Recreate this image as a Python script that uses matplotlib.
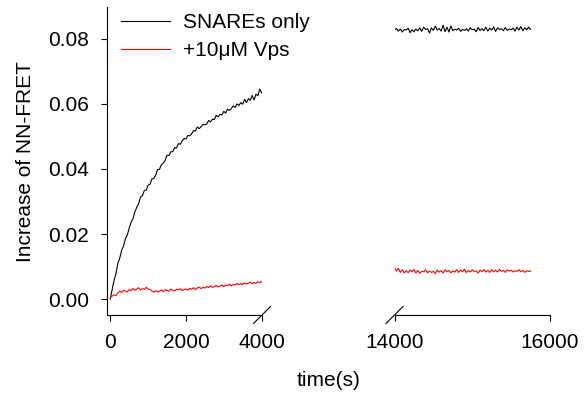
import numpy as np
import matplotlib
matplotlib.use('Agg')
import matplotlib.pyplot as plt

plt.rcParams['font.family'] = ['Liberation Sans', 'DejaVu Sans']
plt.rcParams['font.size'] = 15

# early phase, sampled every 50 s
t_early = np.arange(0, 4001, 50)
snare_early = [0.0000, 0.0030, 0.0058, 0.0078, 0.0110, 0.0126, 0.0150, 0.0163, 0.0186, 0.0197,
               0.0218, 0.0236, 0.0247, 0.0268, 0.0282, 0.0294, 0.0314, 0.0318, 0.0334, 0.0335,
               0.0350, 0.0353, 0.0369, 0.0371, 0.0381, 0.0398, 0.0399, 0.0413, 0.0417, 0.0427,
               0.0442, 0.0441, 0.0453, 0.0453, 0.0466, 0.0464, 0.0478, 0.0476, 0.0486, 0.0494,
               0.0492, 0.0503, 0.0502, 0.0508, 0.0518, 0.0517, 0.0529, 0.0524, 0.0530, 0.0537,
               0.0536, 0.0538, 0.0549, 0.0545, 0.0553, 0.0552, 0.0565, 0.0560, 0.0568, 0.0566,
               0.0577, 0.0572, 0.0584, 0.0580, 0.0586, 0.0594, 0.0589, 0.0600, 0.0595, 0.0604,
               0.0599, 0.0614, 0.0604, 0.0616, 0.0611, 0.0626, 0.0612, 0.0630, 0.0625, 0.0646,
               0.0634]
vps_early = [0.0005, 0.0009, 0.0013, 0.0011, 0.0019, 0.0024, 0.0020, 0.0027, 0.0025, 0.0022,
             0.0029, 0.0026, 0.0033, 0.0027, 0.0031, 0.0035, 0.0028, 0.0032, 0.0030, 0.0036,
             0.0031, 0.0029, 0.0025, 0.0021, 0.0026, 0.0022, 0.0024, 0.0028, 0.0023, 0.0029,
             0.0026, 0.0024, 0.0031, 0.0027, 0.0025, 0.0030, 0.0028, 0.0032, 0.0026, 0.0029,
             0.0031, 0.0027, 0.0033, 0.0030, 0.0035, 0.0029, 0.0034, 0.0037, 0.0032, 0.0036,
             0.0034, 0.0039, 0.0035, 0.0041, 0.0036, 0.0038, 0.0042, 0.0037, 0.0040, 0.0044,
             0.0038, 0.0043, 0.0041, 0.0046, 0.0040, 0.0045, 0.0043, 0.0048, 0.0044, 0.0047,
             0.0045, 0.0050, 0.0046, 0.0049, 0.0052, 0.0047, 0.0051, 0.0048, 0.0053, 0.0050,
             0.0054]

# late phase, sampled every 25 s from 14000 s
snare_late = [0.0828, 0.0832, 0.0824, 0.0830, 0.0821, 0.0829, 0.0827, 0.0833, 0.0819, 0.0828,
              0.0822, 0.0830, 0.0825, 0.0834, 0.0823, 0.0836, 0.0829, 0.0831, 0.0818, 0.0834,
              0.0826, 0.0839, 0.0827, 0.0832, 0.0824, 0.0842, 0.0822, 0.0836, 0.0821, 0.0840,
              0.0825, 0.0830, 0.0827, 0.0833, 0.0823, 0.0829, 0.0826, 0.0831, 0.0824, 0.0834,
              0.0828, 0.0830, 0.0822, 0.0835, 0.0826, 0.0831, 0.0825, 0.0836, 0.0824, 0.0833,
              0.0827, 0.0837, 0.0823, 0.0834, 0.0829, 0.0831, 0.0825, 0.0835, 0.0826, 0.0830,
              0.0828, 0.0833, 0.0824, 0.0836, 0.0827, 0.0838, 0.0825, 0.0834, 0.0828, 0.0836,
              0.0829]
vps_late = [0.0097, 0.0086, 0.0094, 0.0082, 0.0090, 0.0080, 0.0087, 0.0081, 0.0089, 0.0084,
            0.0091, 0.0080, 0.0088, 0.0079, 0.0085, 0.0084, 0.0090, 0.0081, 0.0086, 0.0082,
            0.0085, 0.0078, 0.0089, 0.0083, 0.0087, 0.0080, 0.0090, 0.0084, 0.0088, 0.0081,
            0.0086, 0.0083, 0.0091, 0.0082, 0.0089, 0.0084, 0.0092, 0.0081, 0.0088, 0.0083,
            0.0090, 0.0085, 0.0086, 0.0080, 0.0089, 0.0084, 0.0091, 0.0083, 0.0088, 0.0082,
            0.0090, 0.0084, 0.0089, 0.0083, 0.0091, 0.0085, 0.0088, 0.0082, 0.0090, 0.0086,
            0.0089, 0.0083, 0.0087, 0.0085, 0.0090, 0.0084, 0.0088, 0.0082, 0.0087, 0.0085,
            0.0086]
t_late = 14000 + 25 * np.arange(len(snare_late))

labels = ['SNAREs only', '+10\u03bcM Vps']
colors = ['black', 'red']

W, H = 584, 398
fig = plt.figure(figsize=(W / 100, H / 100), dpi=100)
bottom = (H - 315) / H
height = 308 / H
ax1 = fig.add_axes([107 / W, bottom, 155 / W, height])
ax2 = fig.add_axes([394.5 / W, bottom, 155.5 / W, height])

ax1.plot(t_early, snare_early, color=colors[0], lw=0.8, label=labels[0])
ax1.plot(t_early, vps_early, color=colors[1], lw=0.8, label=labels[1])
ax2.plot(t_late, snare_late, color=colors[0], lw=0.8)
ax2.plot(t_late, vps_late, color=colors[1], lw=0.8)

ylim = (-0.0049, 0.0898)
ax1.set_xlim(-87, 4010)
ax2.set_xlim(14000, 16000)
for ax in (ax1, ax2):
    ax.set_ylim(*ylim)
    ax.spines['top'].set_visible(False)
    ax.spines['right'].set_visible(False)
    ax.tick_params(axis='x', length=4, width=0.8, pad=9)
    ax.tick_params(axis='y', length=4, width=0.8, pad=9)

ax1.set_xticks([0, 2000, 4000])
ax1.set_yticks([0.00, 0.02, 0.04, 0.06, 0.08])
ax1.set_yticklabels(['0.00', '0.02', '0.04', '0.06', '0.08'])
ax2.set_xticks([14000, 16000])
ax2.spines['left'].set_visible(False)
ax2.set_yticks([])

# break marks on the x axis
d = 8.5
kw = dict(color='black', lw=0.8, clip_on=False)
ax1.plot([1 - d / 155, 1 + d / 155], [-d / 308, d / 308], transform=ax1.transAxes, **kw)
ax2.plot([-d / 155.5, d / 155.5], [-d / 308, d / 308], transform=ax2.transAxes, **kw)

fig.text(328.5 / W, 1 - 381 / H, 'time(s)', ha='center', va='center')
fig.text(26 / W, 1 - 162 / H, 'Increase of NN-FRET', rotation=90, ha='center', va='center')

fig.legend(loc='upper left', bbox_to_anchor=(121 / W, 1 - 13 / H), frameon=False,
           borderpad=0, borderaxespad=0, handlelength=2.35, handletextpad=0.62,
           labelspacing=0.45)

fig.savefig('out.png', dpi=100)
